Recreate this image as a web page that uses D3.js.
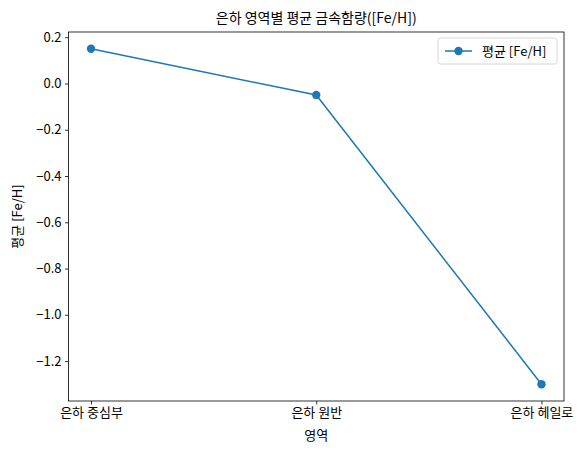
<!DOCTYPE html>
<html>
<head>
<meta charset="utf-8">
<script src="https://cdn.jsdelivr.net/npm/d3@7"></script>
<style>
  body { margin: 0; background: #fff; }
  text { font-family: "Noto Sans CJK KR", "DejaVu Sans", sans-serif; fill: #000; }
</style>
</head>
<body>
<div id="chart"></div>
<script>
// data
var regions = ["은하 중심부", "은하 원반", "은하 헤일로"];
var meanFeH = [0.15, -0.05, -1.3];
var yTicks = [0.2, 0.0, -0.2, -0.4, -0.6, -0.8, -1.0, -1.2];

var W = 584, H = 454;
var margin = { top: 32, right: 20, bottom: 53, left: 68.5 },
    width = W - margin.left - margin.right,
    height = H - margin.top - margin.bottom;

var svg = d3.select("#chart").append("svg")
    .attr("width", W).attr("height", H)
    .append("g")
    .attr("transform", "translate(" + margin.left + "," + margin.top + ")");

var x = d3.scaleLinear().domain([-0.1, 2.1]).range([0, width]);
var ymin = d3.min(meanFeH), ymax = d3.max(meanFeH), pad = (ymax - ymin) * 0.05;
var y = d3.scaleLinear().domain([ymin - pad, ymax + pad]).range([height, 0]);

var data = regions.map(function(r, i) { return { i: i, name: r, v: meanFeH[i] }; });
var color = "#1f77b4";

// axes
var xAxis = svg.append("g")
    .attr("transform", "translate(0," + height + ")")
    .call(d3.axisBottom(x).tickValues([0, 1, 2]).tickFormat(function(d) { return regions[d]; }).tickSize(3.5).tickPadding(3.5));
var yAxis = svg.append("g")
    .call(d3.axisLeft(y).tickValues(yTicks).tickFormat(function(d) { return d3.format(".1f")(d).replace("-", "\u2212"); }).tickSize(3.5).tickPadding(3.5));
[xAxis, yAxis].forEach(function(a) {
    a.select(".domain").remove();
    a.selectAll("line").attr("stroke", "#000").attr("stroke-width", 0.8);
    a.selectAll("text").style("font-size", "13px").attr("fill", "#000");
});

// frame
svg.append("rect").attr("width", width).attr("height", height)
    .attr("fill", "none").attr("stroke", "#000").attr("stroke-width", 0.8);

// line + markers
svg.append("path").datum(data)
    .attr("fill", "none").attr("stroke", color).attr("stroke-width", 1.5)
    .attr("d", d3.line().x(function(d) { return x(d.i); }).y(function(d) { return y(d.v); }));
svg.selectAll("circle.pt").data(data).enter().append("circle")
    .attr("class", "pt")
    .attr("cx", function(d) { return x(d.i); })
    .attr("cy", function(d) { return y(d.v); })
    .attr("r", 4.2).attr("fill", color);

// title and labels
svg.append("text").attr("x", width / 2).attr("y", -9).attr("text-anchor", "middle")
    .style("font-size", "14px").text("은하 영역별 평균 금속함량([Fe/H])");
svg.append("text").attr("x", width / 2).attr("y", height + 39).attr("text-anchor", "middle")
    .style("font-size", "13px").text("영역");
svg.append("text").attr("transform", "translate(-46.5," + (height / 2) + ") rotate(-90)")
    .attr("text-anchor", "middle").style("font-size", "13px").text("평균 [Fe/H]");

// legend
var lg = svg.append("g").attr("transform", "translate(" + (width - 126) + ",6)");
lg.append("rect").attr("width", 119).attr("height", 26).attr("rx", 2.5)
    .attr("fill", "#fff").attr("fill-opacity", 0.8).attr("stroke", "#ccc").attr("stroke-width", 0.8);
lg.append("line").attr("x1", 7).attr("x2", 34).attr("y1", 13).attr("y2", 13)
    .attr("stroke", color).attr("stroke-width", 1.5);
lg.append("circle").attr("cx", 20.5).attr("cy", 13).attr("r", 4.2).attr("fill", color);
lg.append("text").attr("x", 44).attr("y", 17.5).style("font-size", "13px").text("평균 [Fe/H]");
</script>
</body>
</html>
